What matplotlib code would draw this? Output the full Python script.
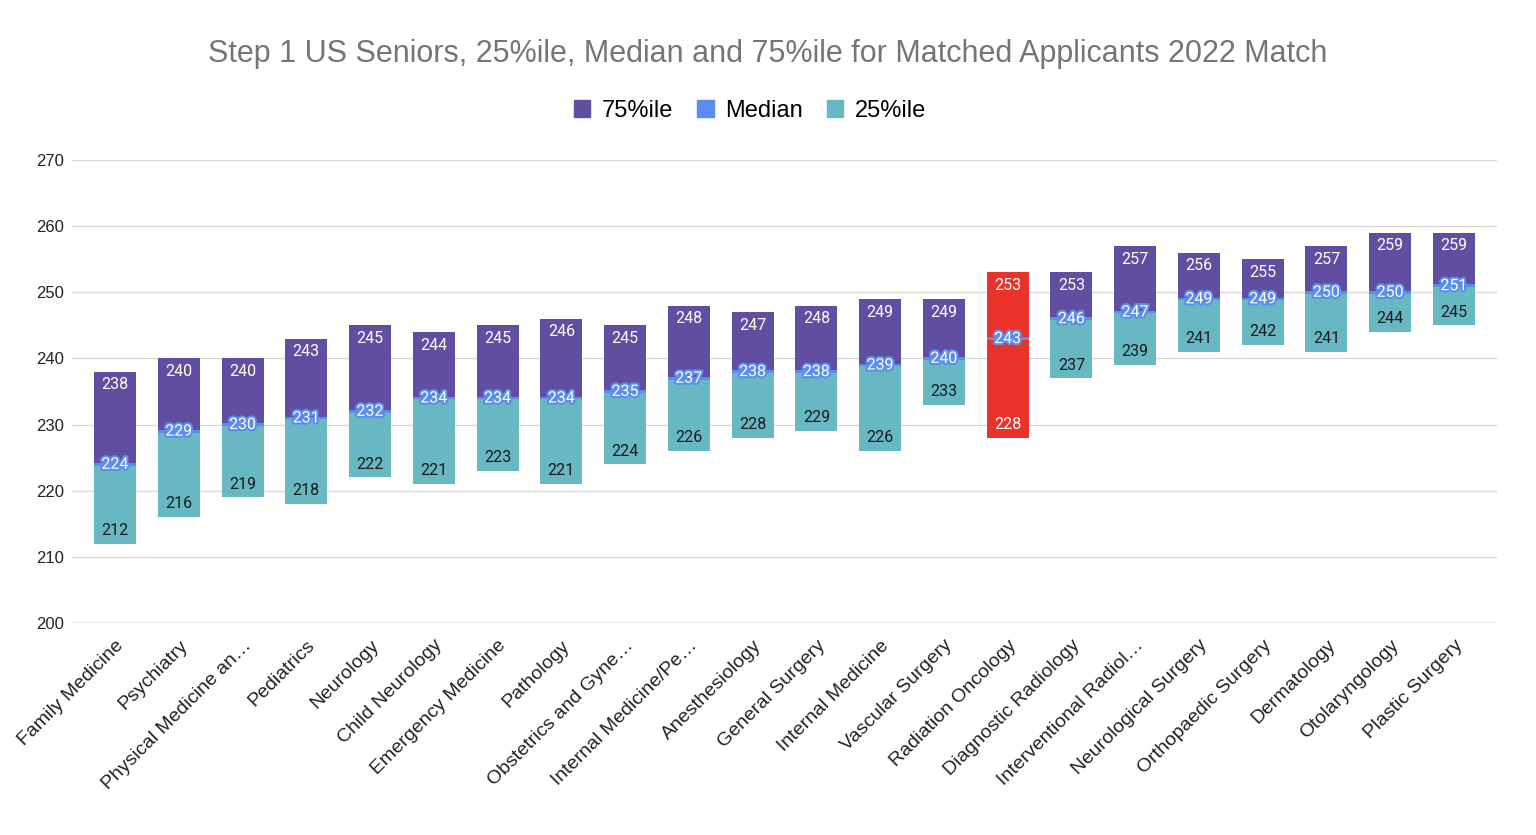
import numpy as np
import matplotlib.pyplot as plt
import matplotlib.patheffects as pe
from matplotlib.patches import Patch

plt.rcParams['font.family'] = ['Liberation Sans', 'DejaVu Sans']

specialties = ["Family Medicine", "Psychiatry", "Physical Medicine an\u2026", "Pediatrics",
               "Neurology", "Child Neurology", "Emergency Medicine", "Pathology",
               "Obstetrics and Gyne\u2026", "Internal Medicine/Pe\u2026", "Anesthesiology",
               "General Surgery", "Internal Medicine", "Vascular Surgery", "Radiation Oncology",
               "Diagnostic Radiology", "Interventional Radiol\u2026", "Neurological Surgery",
               "Orthopaedic Surgery", "Dermatology", "Otolaryngology", "Plastic Surgery"]
p25 = [212, 216, 219, 218, 222, 221, 223, 221, 224, 226, 228, 229, 226, 233, 228, 237, 239, 241, 242, 241, 244, 245]
median = [224, 229, 230, 231, 232, 234, 234, 234, 235, 237, 238, 238, 239, 240, 243, 246, 247, 249, 249, 250, 250, 251]
p75 = [238, 240, 240, 243, 245, 244, 245, 246, 245, 248, 247, 248, 249, 249, 253, 253, 257, 256, 255, 257, 259, 259]
highlight = "Radiation Oncology"

purple = '#614ea0'
teal = '#68b8c3'
blue = '#5a8ded'
red = '#e8322a'

fig = plt.figure(figsize=(15.36, 8.35), dpi=100)
ax = fig.add_axes([72/1536, 1-623/835, (1497-72)/1536, (623-160)/835])

x = np.arange(len(specialties))
lo = np.array(p25); md = np.array(median); hi = np.array(p75)
w = 0.66
for i in x:
    if specialties[i] == highlight:
        ax.bar(i, hi[i]-lo[i], bottom=lo[i], width=w, color=red, zorder=2)
    else:
        ax.bar(i, md[i]-lo[i], bottom=lo[i], width=w, color=teal, zorder=2)
        ax.bar(i, hi[i]-md[i], bottom=md[i], width=w, color=purple, zorder=2)
    ax.bar(i, 0.4, bottom=md[i]-0.2, width=w, color=blue, zorder=3)

    ax.text(i, hi[i]-2.0, str(hi[i]), ha='center', va='center', color='white', fontsize=11.5,
            family='Roboto', zorder=4)
    ax.text(i, md[i], str(md[i]), ha='center', va='center', color='white', fontsize=11.5,
            family='Roboto', zorder=4, path_effects=[pe.withStroke(linewidth=3, foreground=blue)])
    bc = 'white' if specialties[i] == highlight else '#1a1a1a'
    ax.text(i, lo[i]+2.0, str(lo[i]), ha='center', va='center', color=bc, fontsize=11.5,
            family='Roboto', zorder=4)

ax.set_ylim(200, 270)
ax.set_xlim(-0.675, len(specialties)-1+0.675)
ax.set_yticks(np.arange(200, 271, 10))
ax.grid(axis='y', color='#d9d9d9', linewidth=1, zorder=0)
ax.axhline(200, color='#bdbdbd', linewidth=1, zorder=1)
for s in ax.spines.values():
    s.set_visible(False)
ax.tick_params(axis='y', length=0, pad=6, labelsize=12, labelcolor='#222222')
ax.tick_params(axis='x', length=0, pad=10)
ax.set_xticks(x)
ax.set_xticklabels(specialties, rotation=45, ha='right', rotation_mode='anchor', fontsize=14, color='#222222')

fig.text(0.5, 1-54/835, "Step 1 US Seniors, 25%ile, Median and 75%ile for Matched Applicants 2022 Match",
         ha='center', va='center', fontsize=22, color='#757575')

handles = [Patch(color=purple, label='75%ile'), Patch(color=blue, label='Median'), Patch(color=teal, label='25%ile')]
fig.legend(handles=handles, loc='center', bbox_to_anchor=(750/1536, 1-111/835), ncol=3, frameon=False,
           fontsize=17, handlelength=0.7, handleheight=0.7, handletextpad=0.5, columnspacing=1.0)

fig.savefig('out.png', dpi=100)
